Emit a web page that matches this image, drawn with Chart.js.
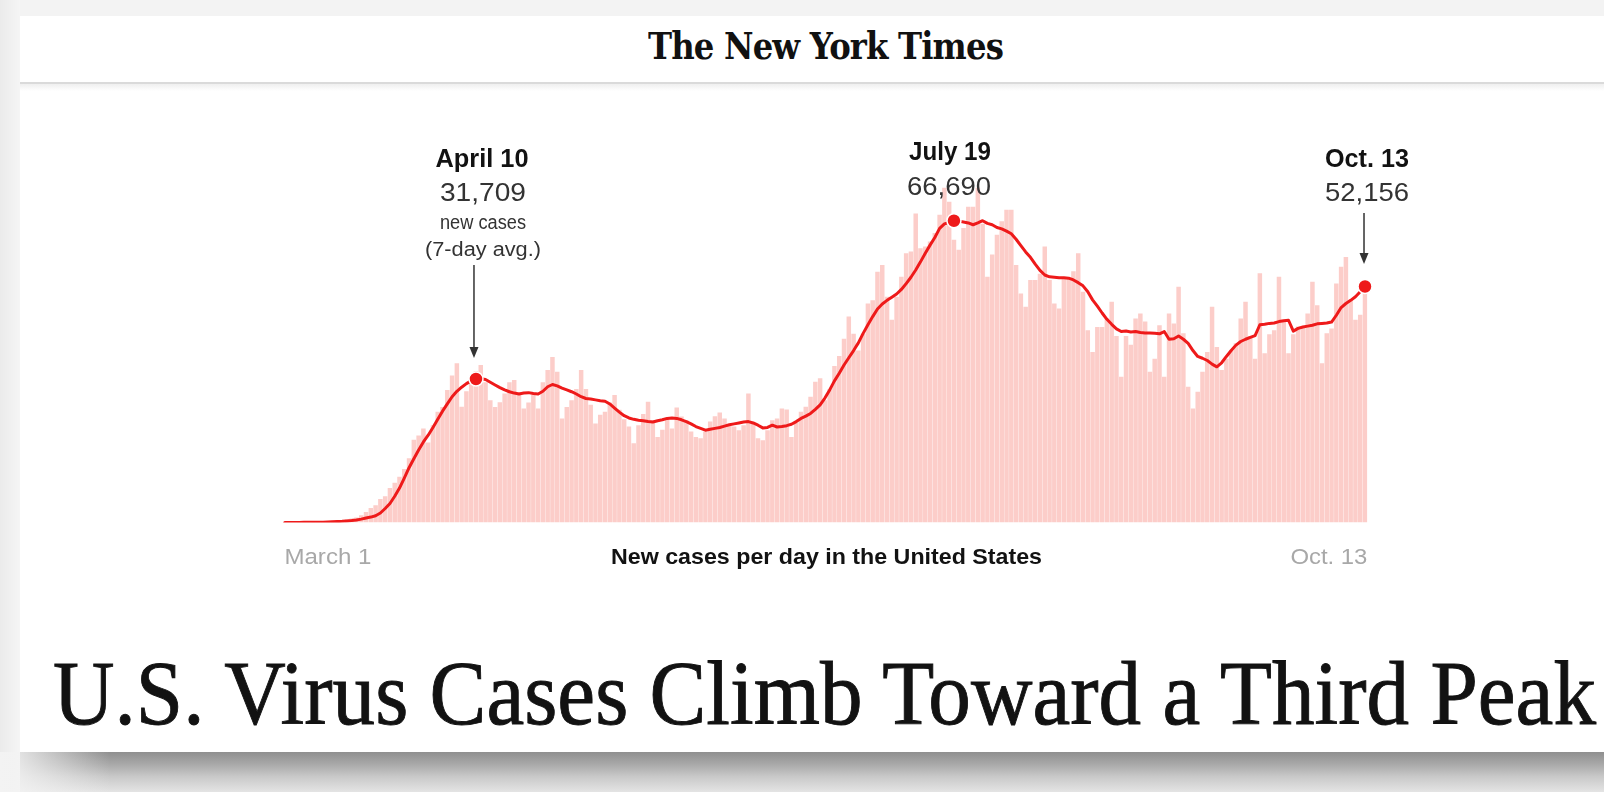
<!DOCTYPE html>
<html>
<head>
<meta charset="utf-8">
<script src="https://cdn.jsdelivr.net/npm/chart.js@4.4.1/dist/chart.umd.min.js"></script>
<style>
  html, body { margin: 0; padding: 0; }
  body {
    width: 1604px; height: 792px; overflow: hidden; position: relative;
    background: #f3f3f3;
  }
  .edge-left { position: absolute; left: 0; top: 0; width: 20px; height: 792px;
    background: linear-gradient(to right, #ebebeb, #f5f5f5); }
  .card { position: absolute; left: 20px; top: 16px; width: 1584px; height: 736px; background: #fff; }
  .rule { position: absolute; left: 20px; top: 82px; width: 1584px; height: 2px; background: #dadada; }
  .rule-shade { position: absolute; left: 20px; top: 84px; width: 1584px; height: 7px;
    background: linear-gradient(#efefef, #ffffff); }
  .shadow { position: absolute; left: 20px; top: 752px; width: 1584px; height: 40px;
    background: linear-gradient(#8f8f8f, #a8a8a8 30%, #c9c9c9 62%, #e4e4e4); }
  .shadow-fade { position: absolute; left: 0; top: 752px; width: 110px; height: 40px;
    background: linear-gradient(to right, #f3f3f3, rgba(243,243,243,0)); }
  .logo { position: absolute; left: 648px; top: 27px; white-space: nowrap;
    font-family: "DejaVu Serif", serif; font-weight: bold; font-size: 38px; line-height: 38px;
    color: #111; transform-origin: 0 0; letter-spacing: -1px; }
  .headline { position: absolute; left: 53px; top: 648px; white-space: nowrap;
    font-family: "Liberation Serif", serif; font-size: 91px; line-height: 91px;
    color: #121212; transform-origin: 0 0; -webkit-text-stroke: 0.9px #121212; }
  #chart { position: absolute; left: 0; top: 0; }
</style>
</head>
<body>
<div class="edge-left"></div>
<div class="card"></div>
<div class="rule"></div>
<div class="rule-shade"></div>
<div class="shadow"></div>
<div class="shadow-fade"></div>
<div class="logo" id="logo">The New York Times</div>
<div class="headline" id="headline">U.S. Virus Cases Climb Toward a Third Peak</div>
<canvas id="chart" width="1604" height="792"></canvas>

<script>
// new cases per day, March 1 to Oct. 13
const cases = [
  10, 20, 20, 30, 60, 70, 100, 110, 160, 280,
  380, 450, 550, 700, 900, 1100, 1600, 2300, 3200, 3800,
  5200, 5800, 7600, 8800, 10100, 11800, 14200, 18300, 19200, 20800,
  17700, 21500, 24500, 25500, 29300, 32500, 35200, 25600, 29000, 31500,
  33500, 34800, 31000, 27000, 25500, 26600, 28500, 31000, 31500, 28800,
  25200, 26500, 28200, 25200, 31000, 33700, 36600, 33300, 23000, 25500,
  27000, 29500, 33700, 29500, 26000, 21900, 23800, 24500, 26500, 28200,
  24900, 22800, 21200, 17500, 21500, 24000, 26700, 22600, 18900, 20500,
  23000, 20800, 25400, 23400, 22600, 20100, 18900, 18600, 20100, 22300,
  23500, 24300, 23000, 21500, 21200, 20400, 21500, 28500, 21900, 18600,
  18200, 20400, 22600, 23000, 25200, 25000, 18900, 22300, 24500, 25600,
  27800, 31100, 31900, 27000, 29500, 34600, 36800, 40600, 45500, 41700,
  38000, 41700, 48400, 49100, 55400, 56900, 49900, 44800, 49900, 54300,
  59500, 59900, 68300, 60600, 61000, 62100, 64000, 68000, 74000, 70900,
  62500, 60300, 65100, 69800, 69800, 74000, 66000, 54300, 59200, 63600,
  66600, 69100, 69100, 56900, 50600, 47700, 53600, 53600, 55000, 61000,
  53600, 48400, 47300, 54000, 54000, 55500, 59500, 51000, 42500, 37700,
  43200, 43200, 45100, 48800, 41200, 32200, 41200, 39300, 45100, 46200,
  44400, 33300, 36200, 43600, 32200, 46200, 44000, 52100, 41800, 30000,
  25200, 28900, 33300, 37700, 47700, 38800, 33700, 36200, 38000, 39600,
  45100, 48800, 41200, 36200, 55100, 37400, 41600, 42500, 54300, 44800,
  37400, 41600, 43300, 43300, 46200, 53200, 48000, 35200, 41800, 42900,
  52800, 56500, 58700, 49100, 44800, 45900, 53600
];

// 7-day average
const avg = [
  5, 10, 15, 20, 30, 40, 50, 60, 80, 110,
  150, 200, 250, 330, 420, 550, 750, 1000, 1200, 1500,
  2100, 3100, 4200, 5800, 7600, 9800, 12100, 14100, 16000, 17800,
  19300, 21000, 22800, 24600, 26200, 27800, 29000, 29900, 30700, 31300,
  31709, 31800, 31600, 31000, 30400, 29800, 29300, 28900, 28600, 28400,
  28600, 28700, 28500, 28400, 29000, 30000, 30500, 30200, 29700, 29300,
  28900, 28400, 27800, 27400, 27300, 27100, 26900, 26800, 26200, 25300,
  24400, 23600, 23100, 22800, 22600, 22500, 22300, 22200, 22500, 22700,
  23000, 23100, 23000, 22700, 22300, 21800, 21200, 20800, 20400, 20600,
  20800, 21000, 21300, 21600, 21800, 22000, 22200, 22300, 22000, 21500,
  20900, 21000, 21500, 21100, 21200, 21400, 21700, 22300, 23000, 23500,
  24100, 25000, 26000, 27500, 29300, 31300, 33000, 34800, 36400, 38000,
  39700, 41800, 43700, 45500, 47200, 48300, 49100, 49800, 50500, 51500,
  52800, 54200, 55800, 57600, 59500, 61300, 63000, 65000, 66000, 66300,
  66690, 66600, 66400, 66200, 65800, 66200, 66700, 66100, 65800, 65200,
  64900, 64400, 63800, 62600, 61200, 59800, 58600, 57100, 55700, 54700,
  54300, 54200, 54100, 54100, 54000, 53600, 53000, 52300, 51000, 49200,
  47800, 46300, 44900, 43800, 42800, 42200, 42300, 42100, 42200, 42000,
  41900, 41900, 41800, 41700, 42200, 40500, 40600, 41200, 40500, 39600,
  38000, 36700, 36300, 35800, 35000, 34400, 35300, 36700, 38000, 39200,
  40000, 40500, 40900, 41300, 43700, 43800, 44000, 44100, 44400, 44600,
  44700, 42300, 42900, 43200, 43400, 43600, 43900, 44000, 44100, 44300,
  45800, 47500, 48400, 49100, 49900, 51000, 52156
];

const markDays = [40, 140, 226];
const markDates = ["April 10", "July 19", "Oct. 13"];
const tickLabels = ["March 1", "Oct. 13"];
const axisTitle = "New cases per day in the United States";

const days = cases.map((_, i) => {
  const d = new Date(Date.UTC(2020, 2, 1 + i));
  return d.toISOString().slice(0, 10);
});

const red = "#ee1a1a";
const sans = '"Liberation Sans", Arial, sans-serif';

// draws text squeezed/stretched to a given width
const fitText = (ctx, text, x, y, w, align) => {
  const m = ctx.measureText(text).width;
  ctx.save();
  let left = x;
  if (align === "center") left = x - w / 2;
  if (align === "right") left = x - w;
  ctx.translate(left, y);
  ctx.scale(w / m, 1);
  ctx.textAlign = "left";
  ctx.fillText(text, 0, 0);
  ctx.restore();
};

const arrow = (ctx, x, y1, y2) => {
  ctx.strokeStyle = "#333";
  ctx.fillStyle = "#333";
  ctx.lineWidth = 1.5;
  ctx.beginPath();
  ctx.moveTo(x, y1);
  ctx.lineTo(x, y2 - 9);
  ctx.stroke();
  ctx.beginPath();
  ctx.moveTo(x - 4.5, y2 - 11);
  ctx.lineTo(x + 4.5, y2 - 11);
  ctx.lineTo(x, y2);
  ctx.closePath();
  ctx.fill();
};

const annotations = {
  id: "annotations",
  afterDatasetsDraw(chart) {
    const { ctx, chartArea } = chart;
    const pts = chart.getDatasetMeta(0).data;
    ctx.save();
    ctx.textBaseline = "alphabetic";

    const fmt = (v) => v.toLocaleString("en-US");

    // April 10
    let p = pts[markDays[0]];
    ctx.fillStyle = "#121212";
    ctx.font = "bold 26px " + sans;
    fitText(ctx, markDates[0], p.x + 6, 167, 93, "center");
    ctx.fillStyle = "#333";
    ctx.font = "25px " + sans;
    fitText(ctx, fmt(avg[markDays[0]]), p.x + 7, 201, 86, "center");
    ctx.font = "20px " + sans;
    fitText(ctx, "new cases", p.x + 7, 229, 86, "center");
    fitText(ctx, "(7-day avg.)", p.x + 7, 256, 116, "center");
    arrow(ctx, p.x - 2, 265, 358);

    // July 19
    p = pts[markDays[1]];
    ctx.fillStyle = "#121212";
    ctx.font = "bold 26px " + sans;
    fitText(ctx, markDates[1], p.x - 4, 160, 82, "center");
    ctx.fillStyle = "#333";
    ctx.font = "25px " + sans;
    fitText(ctx, fmt(avg[markDays[1]]), p.x - 5, 195, 84, "center");

    // Oct. 13
    p = pts[markDays[2]];
    ctx.fillStyle = "#121212";
    ctx.font = "bold 26px " + sans;
    fitText(ctx, markDates[2], p.x + 2, 167, 84, "center");
    ctx.fillStyle = "#333";
    ctx.font = "25px " + sans;
    fitText(ctx, fmt(avg[markDays[2]]), p.x + 2, 201, 84, "center");
    arrow(ctx, p.x - 1, 213, 264);

    // axis labels
    const y = chartArea.bottom + 41;
    ctx.fillStyle = "#a8a8a8";
    ctx.font = "22px " + sans;
    fitText(ctx, tickLabels[0], chartArea.left + 2, y, 87, "left");
    fitText(ctx, tickLabels[1], chartArea.right, y, 77, "right");
    ctx.fillStyle = "#121212";
    ctx.font = "bold 22px " + sans;
    fitText(ctx, axisTitle, 826.5, y, 431, "center");

    ctx.restore();
  }
};

new Chart(document.getElementById("chart"), {
  type: "bar",
  data: {
    labels: days,
    datasets: [
      {
        type: "line",
        data: avg,
        order: 0,
        borderColor: red,
        borderWidth: 3,
        tension: 0,
        borderJoinStyle: "round",
        borderCapStyle: "round",
        pointRadius: (c) => (markDays.includes(c.dataIndex) ? 7 : 0),
        pointBackgroundColor: red,
        pointBorderColor: "#fff",
        pointBorderWidth: 1.5,
      },
      {
        type: "bar",
        data: cases,
        order: 1,
        backgroundColor: "#fccdc9",
        barPercentage: 1,
        categoryPercentage: 0.94,
      },
    ],
  },
  options: {
    responsive: false,
    animation: false,
    events: [],
    layout: {
      padding: { left: 282.4, right: 236.6, top: 160.5, bottom: 269.5 },
    },
    plugins: {
      legend: { display: false },
      tooltip: { enabled: false },
    },
    scales: {
      x: { display: false },
      y: { display: false, min: 0, max: 80000 },
    },
  },
  plugins: [annotations],
});

const fitWidth = (el, w) => {
  const r = el.getBoundingClientRect().width;
  el.style.transform = "scaleX(" + w / r + ")";
};
fitWidth(document.getElementById("logo"), 355);
fitWidth(document.getElementById("headline"), 1543);
</script>
</body>
</html>
